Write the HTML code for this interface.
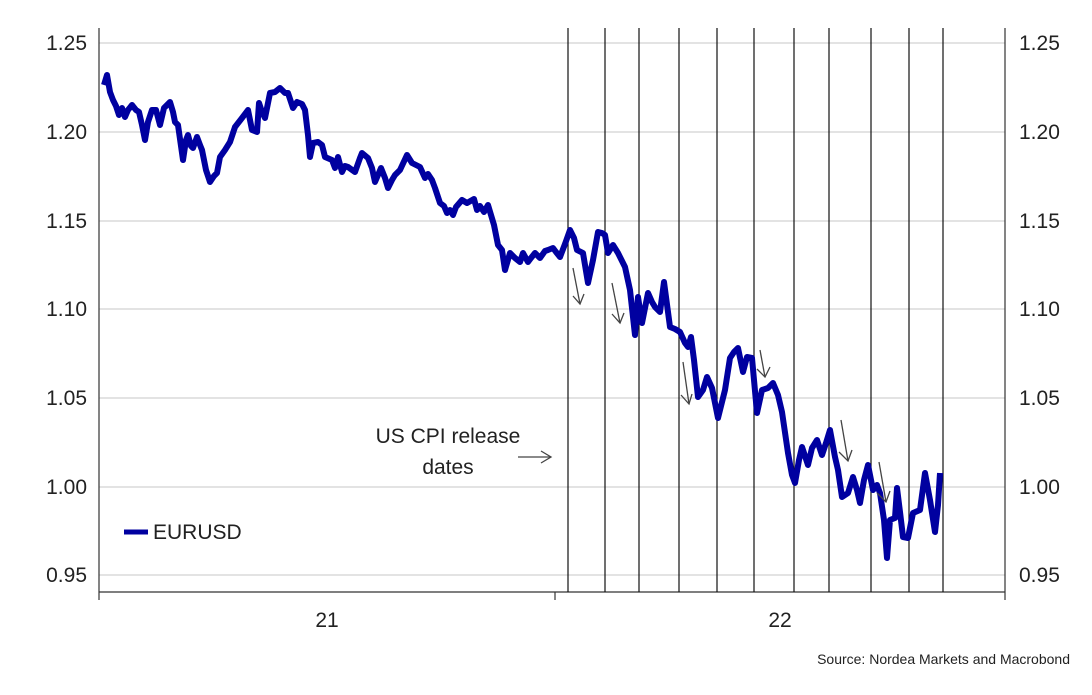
<!DOCTYPE html>
<html><head><meta charset="utf-8"><style>
body{margin:0;background:#fff;}
svg text{font-family:"Liberation Sans",sans-serif;fill:#222;}
</style></head><body>
<svg width="1092" height="690" viewBox="0 0 1092 690" xmlns="http://www.w3.org/2000/svg">
<g stroke="#e3e3e3" stroke-width="2">
<line x1="99" x2="1005" y1="43" y2="43"/><line x1="99" x2="1005" y1="132" y2="132"/>
<line x1="99" x2="1005" y1="221" y2="221"/><line x1="99" x2="1005" y1="309" y2="309"/>
<line x1="99" x2="1005" y1="398" y2="398"/><line x1="99" x2="1005" y1="487" y2="487"/>
<line x1="99" x2="1005" y1="575" y2="575"/>
</g>
<g stroke="#333" stroke-width="1.2">
<line x1="99" y1="28" x2="99" y2="592"/><line x1="1005" y1="28" x2="1005" y2="592"/>
<line x1="99" y1="592" x2="1005" y2="592"/>
<line x1="99" y1="592" x2="99" y2="600"/><line x1="555" y1="592" x2="555" y2="600"/><line x1="1005" y1="592" x2="1005" y2="600"/>
<g stroke="#111">
<line x1="568" y1="28" x2="568" y2="592"/><line x1="605" y1="28" x2="605" y2="592"/>
<line x1="639" y1="28" x2="639" y2="592"/><line x1="679" y1="28" x2="679" y2="592"/>
<line x1="717" y1="28" x2="717" y2="592"/><line x1="754" y1="28" x2="754" y2="592"/>
<line x1="794" y1="28" x2="794" y2="592"/><line x1="829" y1="28" x2="829" y2="592"/>
<line x1="871" y1="28" x2="871" y2="592"/><line x1="909" y1="28" x2="909" y2="592"/>
<line x1="943" y1="28" x2="943" y2="592"/>
</g></g>
<g font-size="21" text-anchor="end">
<text x="87" y="50">1.25</text><text x="87" y="139">1.20</text><text x="87" y="228">1.15</text>
<text x="87" y="316">1.10</text><text x="87" y="405">1.05</text><text x="87" y="494">1.00</text><text x="87" y="582">0.95</text>
</g>
<g font-size="21">
<text x="1019" y="50">1.25</text><text x="1019" y="139">1.20</text><text x="1019" y="228">1.15</text>
<text x="1019" y="316">1.10</text><text x="1019" y="405">1.05</text><text x="1019" y="494">1.00</text><text x="1019" y="582">0.95</text>
<text x="327" y="627" text-anchor="middle">21</text><text x="780" y="627" text-anchor="middle">22</text>
<text x="448" y="443" text-anchor="middle">US CPI release</text>
<text x="448" y="474" text-anchor="middle">dates</text>
<text x="153" y="539">EURUSD</text>
</g>
<text x="1070" y="664" font-size="14" text-anchor="end">Source: Nordea Markets and Macrobond</text>
<line x1="124" y1="532" x2="148" y2="532" stroke="#0000a0" stroke-width="5"/>
<polyline fill="none" stroke="#0000a0" stroke-width="6" stroke-linejoin="round" points="
104,85 107,75 110,92 113,100 116,106 119,115 122,108 125,117 128,110 132,105 136,110 139,112 142,125 145,140 148,122 152,110 156,110 160,125 164,108 170,102 173,112 175,122 178,125 183,160 186,140 188,135 191,146 193,148 197,137 200,145 202,150 206,170 210,182 214,176 217,173 220,157 225,150 230,142 235,127 242,118 248,110 252,130 257,132 259,103 262,112 265,118 270,93 275,92 280,88 285,93 288,93 293,108 297,102 302,104 305,110 308,135 310,157 313,143 318,142 322,145 325,157 332,160 335,168 338,157 342,172 345,166 348,167 355,172 360,158 362,153 368,158 372,168 375,182 381,168 385,178 388,188 392,180 395,175 400,170 407,155 412,163 420,167 425,178 428,174 432,180 435,188 440,203 444,206 447,213 450,210 453,215 456,207 462,200 467,203 474,199 477,210 480,206 484,212 488,205 491,215 494,225 498,245 502,250 505,270 510,253 515,258 520,262 523,253 528,262 531,258 535,253 540,258 545,251 548,250 553,248 556,252 560,257 565,244 570,230 574,238 577,250 583,253 588,283 593,260 598,232 602,233 605,235 608,253 613,245 618,253 625,267 630,290 635,335 638,297 642,323 648,293 652,302 655,307 660,312 664,282 670,327 675,329 680,332 685,343 688,347 691,337 694,360 698,397 703,390 707,377 712,388 718,418 722,402 725,390 730,358 734,352 738,348 743,372 747,357 752,358 757,413 762,390 768,388 773,383 778,395 782,412 788,453 792,475 795,483 799,460 802,447 808,465 812,448 817,440 822,455 826,443 830,430 835,457 838,470 842,497 848,493 853,477 857,490 860,503 864,480 868,465 873,490 877,485 880,493 884,520 887,558 890,520 895,518 897,488 900,512 903,537 908,538 913,513 920,510 925,473 930,500 935,532 938,505 940,473"/>
<g stroke="#444" stroke-width="1.3" fill="none">
<line x1="518" y1="457" x2="551" y2="457"/><polyline points="541,451 551,457 541,463"/>
<line x1="573" y1="268" x2="580" y2="304"/><polyline points="573,296 580,304 584,294"/>
<line x1="612" y1="283" x2="620" y2="323"/><polyline points="612,314 620,323 624,313"/>
<line x1="683" y1="362" x2="689" y2="404"/><polyline points="681,395 689,404 692,394"/>
<line x1="760" y1="350" x2="765" y2="377"/><polyline points="757,369 765,377 770,367"/>
<line x1="841" y1="420" x2="848" y2="461"/><polyline points="839,452 848,461 852,450"/>
<line x1="879" y1="462" x2="886" y2="502"/><polyline points="877,493 886,502 890,491"/>
</g>
</svg>
</body></html>
